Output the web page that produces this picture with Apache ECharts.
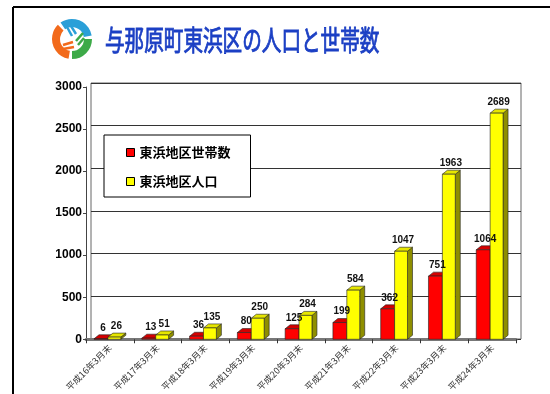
<!DOCTYPE html>
<html><head><meta charset="utf-8">
<script src="https://cdn.jsdelivr.net/npm/echarts@6/dist/echarts.min.js"></script>
<style>html,body{margin:0;padding:0;background:#fff}#c{width:550px;height:394px}</style>
</head><body><div id="c"></div>
<script>
const categories = ['平成16年3月末','平成17年3月末','平成18年3月末','平成19年3月末','平成20年3月末','平成21年3月末','平成22年3月末','平成23年3月末','平成24年3月末'];
const households = [6, 13, 36, 80, 125, 199, 362, 751, 1064];
const population = [26, 51, 135, 250, 284, 584, 1047, 1963, 2689];
const seriesNames = ['東浜地区世帯数', '東浜地区人口'];
const titleText = '与那原町東浜区の人口と世帯数';
const yTicks = {min: 0, max: 3000, interval: 500};

const DX = 5, DY = -4;
const RED = {offset: -0.332, width: 0.29};
const YEL = {offset: -0.041, width: 0.27};
function geom(api, g) {
  const idx = api.value(0), v = api.value(1);
  const c0 = api.coord([idx, 0]);
  const c1 = api.coord([idx, v]);
  const bw = api.size([1, 0])[0];
  return {v: v, x: c0[0] + g.offset * bw, w: g.width * bw, y0: c0[1], y1: c1[1]};
}
function bar3d(g, face, side, topC) {
  return function (params, api) {
    const b = geom(api, g);
    const x = b.x, w = b.w, y0 = b.y0, y1 = b.y1;
    const st = {stroke: '#222', lineWidth: 0.6};
    return {type: 'group', children: [
      {type: 'polygon', shape: {points: [[x + w, y1], [x + w + DX, y1 + DY], [x + w + DX, y0 + DY], [x + w, y0]]}, style: Object.assign({fill: side}, st)},
      {type: 'polygon', shape: {points: [[x, y1], [x + DX, y1 + DY], [x + w + DX, y1 + DY], [x + w, y1]]}, style: Object.assign({fill: topC}, st)},
      {type: 'rect', shape: {x: x, y: y1, width: w, height: y0 - y1}, style: Object.assign({fill: face}, st)}
    ]};
  };
}
function label3d(g) {
  return function (params, api) {
    const b = geom(api, g);
    return {type: 'text', style: {text: String(b.v), x: b.x + b.w / 2 + 2, y: b.y1 + DY - 2, align: 'center', verticalAlign: 'bottom', font: 'bold 10px "Liberation Sans", Arial', fill: '#111'}};
  };
}

const chart = echarts.init(document.getElementById('c'), null, {renderer: 'canvas'});
const deg = Math.PI / 180;
const hhData = households.map((v, i) => [i, v]);
const popData = population.map((v, i) => [i, v]);
chart.setOption({
  animation: false,
  backgroundColor: '#fff',
  graphic: [
    {type: 'line', shape: {x1: 13, y1: 7, x2: 550, y2: 7}, style: {stroke: '#000', lineWidth: 2}},
    {type: 'line', shape: {x1: 13, y1: 7, x2: 13, y2: 394}, style: {stroke: '#000', lineWidth: 2}},
    {type: 'group', x: 72, y: 39, children: [
      {type: 'arc', shape: {cx: 0, cy: 0, r: 16, startAngle: 100 * deg, endAngle: 225 * deg}, style: {stroke: '#f26a1b', lineWidth: 8, fill: null}},
      {type: 'arc', shape: {cx: 0, cy: 0, r: 16, startAngle: 235 * deg, endAngle: 350 * deg}, style: {stroke: '#2a9fd8', lineWidth: 8, fill: null}},
      {type: 'arc', shape: {cx: 0, cy: 0, r: 16, startAngle: 0 * deg, endAngle: 90 * deg}, style: {stroke: '#3daa48', lineWidth: 8, fill: null}},
      {type: 'line', shape: {x1: -9, y1: 6, x2: 1, y2: 3}, style: {stroke: '#f26a1b', lineWidth: 2.5}},
      {type: 'line', shape: {x1: -9, y1: 10, x2: 2, y2: 8}, style: {stroke: '#f26a1b', lineWidth: 2.5}},
      {type: 'line', shape: {x1: -5, y1: -12, x2: 0, y2: -3}, style: {stroke: '#2a9fd8', lineWidth: 2.5}},
      {type: 'line', shape: {x1: -1, y1: -13, x2: 4, y2: -5}, style: {stroke: '#2a9fd8', lineWidth: 2.5}},
      {type: 'line', shape: {x1: 11, y1: -6, x2: 4, y2: 2}, style: {stroke: '#3daa48', lineWidth: 2.5}},
      {type: 'line', shape: {x1: 12, y1: -1, x2: 6, y2: 6}, style: {stroke: '#3daa48', lineWidth: 2.5}}
    ]},
    {type: 'text', x: 105, y: 40, scaleX: 0.7, style: {text: titleText, x: 0, y: 0, verticalAlign: 'middle', font: 'normal 28px "Noto Sans CJK JP"', fill: '#1b3fc4', stroke: '#1b3fc4', lineWidth: 0.9}}
  ],
  legend: {
    left: 104, top: 135, orient: 'vertical',
    data: seriesNames,
    icon: 'rect', itemWidth: 8, itemHeight: 8, itemGap: 16,
    padding: [11, 20, 9, 22],
    backgroundColor: '#fff', borderColor: '#000', borderWidth: 1,
    itemStyle: {borderColor: '#000', borderWidth: 1},
    textStyle: {fontSize: 13, fontWeight: 'bold', color: '#000', fontFamily: '"Noto Sans CJK JP"'},
    z: 10
  },
  grid: [
    {left: 86, right: 34, top: 87, bottom: 51},
    {left: 91, right: 29, top: 83, bottom: 55, show: true, borderColor: '#666', borderWidth: 1, backgroundColor: '#fff', z: 0}
  ],
  xAxis: [
    {type: 'category', gridIndex: 0, data: categories,
      axisLine: {lineStyle: {color: '#777', width: 3}},
      axisTick: {show: true, length: 4, lineStyle: {color: '#333'}},
      axisLabel: {interval: 0, rotate: 45, fontSize: 9, color: '#333', margin: 7, fontFamily: '"Noto Sans CJK JP"'}},
    {type: 'category', gridIndex: 1, data: categories, show: false}
  ],
  yAxis: [
    {type: 'value', gridIndex: 0, min: yTicks.min, max: yTicks.max, interval: yTicks.interval,
      axisLine: {show: true, lineStyle: {color: '#444', width: 1}},
      axisTick: {show: true, length: 3, lineStyle: {color: '#444'}},
      splitLine: {show: false},
      axisLabel: {fontSize: 12, fontWeight: 'bold', color: '#000', margin: 4, fontFamily: '"Liberation Sans", Arial',
        formatter: v => String(v)}},
    {type: 'value', gridIndex: 1, min: yTicks.min, max: yTicks.max, interval: yTicks.interval,
      axisLine: {show: false}, axisTick: {show: false}, axisLabel: {show: false},
      splitLine: {show: true, lineStyle: {color: '#333', width: 1}}}
  ],
  series: [
    {type: 'custom', name: seriesNames[0], xAxisIndex: 0, yAxisIndex: 0, z: 5,
      itemStyle: {color: '#ff0000'}, data: hhData, encode: {x: 0, y: 1},
      renderItem: bar3d(RED, '#ff0000', '#8c0000', '#d40000')},
    {type: 'custom', name: seriesNames[1], xAxisIndex: 0, yAxisIndex: 0, z: 5,
      itemStyle: {color: '#ffff00'}, data: popData, encode: {x: 0, y: 1},
      renderItem: bar3d(YEL, '#ffff00', '#8f8f00', '#e6e600')},
    {type: 'custom', name: 'lbl-hh', xAxisIndex: 0, yAxisIndex: 0, z: 8, silent: true,
      data: hhData, encode: {x: 0, y: 1}, renderItem: label3d(RED)},
    {type: 'custom', name: 'lbl-pop', xAxisIndex: 0, yAxisIndex: 0, z: 8, silent: true,
      data: popData, encode: {x: 0, y: 1}, renderItem: label3d(YEL)}
  ]
});
</script></body></html>
